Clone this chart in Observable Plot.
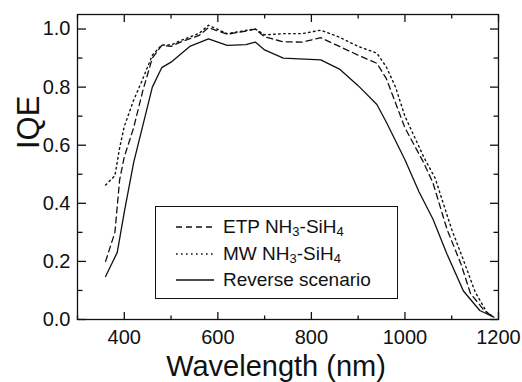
<!DOCTYPE html>
<html>
<head>
<meta charset="utf-8">
<script src="https://cdn.jsdelivr.net/npm/d3@7"></script>
<script src="https://cdn.jsdelivr.net/npm/@observablehq/plot@0.6"></script>
<style>
  html, body { margin: 0; padding: 0; background: #fff; }
  #wrap { position: relative; width: 522px; height: 382px; font-family: "Liberation Sans", Arial, sans-serif; }
  #legend { position: absolute; left: 155px; top: 206px; width: 243px; height: 93px; border: 1.3px solid #111; box-sizing: border-box; background: #fff; }
  .row { position: absolute; left: 0; height: 24px; display: flex; align-items: center; font-size: 19px; color: #111; white-space: nowrap; }
  .row svg { margin-left: 20px; margin-right: 9px; }
  .row sub { font-size: 13px; position: relative; top: 3px; vertical-align: baseline; }
</style>
</head>
<body>
<div id="wrap"></div>
<script>
// Data
const etpWavelength = [360,380,390,400,420,440,460,480,500,520,560,580,620,660,680,700,740,780,820,860,900,940,960,980,1000,1040,1060,1090,1120,1140,1170,1190];
const etpIQE        = [0.200,0.300,0.480,0.560,0.660,0.790,0.900,0.944,0.940,0.955,0.978,1.005,0.982,0.993,1.000,0.973,0.956,0.955,0.970,0.940,0.910,0.882,0.830,0.745,0.660,0.540,0.470,0.310,0.190,0.090,0.030,0.008];

const mwWavelength = [360,380,390,400,420,440,460,480,500,520,560,580,620,660,680,700,740,780,820,860,900,940,960,980,1000,1040,1065,1100,1125,1150,1175,1190];
const mwIQE        = [0.463,0.495,0.590,0.665,0.755,0.830,0.910,0.945,0.945,0.960,0.985,1.013,0.984,0.995,1.000,0.980,0.984,0.984,0.996,0.972,0.940,0.917,0.870,0.800,0.700,0.560,0.485,0.310,0.205,0.095,0.025,0.008];

const revWavelength = [360,385,400,420,440,460,480,500,540,580,620,660,680,700,740,820,860,900,940,960,1000,1030,1060,1090,1125,1160,1190];
const revIQE        = [0.148,0.231,0.370,0.540,0.670,0.800,0.867,0.886,0.940,0.966,0.944,0.946,0.955,0.928,0.900,0.894,0.862,0.805,0.740,0.680,0.550,0.440,0.345,0.225,0.098,0.031,0.008];

const seriesNames = ["ETP NH3-SiH4", "MW NH3-SiH4", "Reverse scenario"];
const xMajorTicks = [400, 600, 800, 1000, 1200];
const xMinorTicks = [300, 500, 700, 900, 1100];
const yMajorTicks = [0, 0.2, 0.4, 0.6, 0.8, 1.0];
const yMinorTicks = [0.1, 0.3, 0.5, 0.7, 0.9];
const xTitle = "Wavelength (nm)";
const yTitle = "IQE";

const toRows = (wl, v, s) => wl.map((w, i) => ({wavelength: w, iqe: v[i], series: s}));
const etp = toRows(etpWavelength, etpIQE, seriesNames[0]);
const mw = toRows(mwWavelength, mwIQE, seriesNames[1]);
const rev = toRows(revWavelength, revIQE, seriesNames[2]);

const ink = "#111";
const tickStyle = {stroke: ink, strokeWidth: 1.3, fill: "none", label: null};

// Inward ticks: the opposite-side tick shape drawn at each frame edge
const chart = Plot.plot({
  width: 522,
  height: 382,
  marginLeft: 77,
  marginRight: 24,
  marginTop: 14,
  marginBottom: 63,
  style: {fontFamily: "'Liberation Sans', Arial, sans-serif", color: ink, background: "#fff"},
  x: {domain: [300, 1200]},
  y: {domain: [0, 1.05]},
  marks: [
    Plot.line(rev, {x: "wavelength", y: "iqe", stroke: ink, strokeWidth: 1.3}),
    Plot.line(etp, {x: "wavelength", y: "iqe", stroke: ink, strokeWidth: 1.3, strokeDasharray: "6,4"}),
    Plot.line(mw, {x: "wavelength", y: "iqe", stroke: ink, strokeWidth: 1.4, strokeDasharray: "1.6,3.4"}),
    Plot.frame({stroke: ink, strokeWidth: 1.3}),
    Plot.axisX(xMajorTicks, {anchor: "top", frameAnchor: "bottom", tickSize: 8, ...tickStyle}),
    Plot.axisX(xMinorTicks, {anchor: "top", frameAnchor: "bottom", tickSize: 4.5, ...tickStyle}),
    Plot.axisX(xMajorTicks, {anchor: "bottom", frameAnchor: "top", tickSize: 8, ...tickStyle}),
    Plot.axisX(xMinorTicks, {anchor: "bottom", frameAnchor: "top", tickSize: 4.5, ...tickStyle}),
    Plot.axisY(yMajorTicks, {anchor: "right", frameAnchor: "left", tickSize: 8, ...tickStyle}),
    Plot.axisY(yMinorTicks, {anchor: "right", frameAnchor: "left", tickSize: 4.5, ...tickStyle}),
    Plot.axisY(yMajorTicks, {anchor: "left", frameAnchor: "right", tickSize: 8, ...tickStyle}),
    Plot.axisY(yMinorTicks, {anchor: "left", frameAnchor: "right", tickSize: 4.5, ...tickStyle}),
    Plot.axisX(xMajorTicks, {anchor: "bottom", tickSize: 0, tickPadding: 10, fontSize: 20, fill: ink, tickFormat: d => String(d), label: null}),
    Plot.axisY(yMajorTicks, {anchor: "left", tickSize: 0, tickPadding: 7, fontSize: 20, fill: ink, tickFormat: d3.format(".1f"), label: null}),
    Plot.text([xTitle], {frameAnchor: "bottom", text: d => d, fontSize: 29, fill: ink, lineAnchor: "middle", dy: 47, dx: -12}),
    Plot.text([yTitle], {frameAnchor: "left", text: d => d, fontSize: 31, fill: ink, rotate: -90, lineAnchor: "middle", dx: -48, dy: -18})
  ]
});

const wrap = document.getElementById("wrap");
wrap.appendChild(chart);

// Legend (inside the plot area)
const legend = document.createElement("div");
legend.id = "legend";
const rows = [
  {dash: "6,4", sw: 1.3, html: 'ETP NH<sub>3</sub>-SiH<sub>4</sub>', top: 8},
  {dash: "1.6,3.4", sw: 1.4, html: 'MW NH<sub>3</sub>-SiH<sub>4</sub>', top: 35},
  {dash: null, sw: 1.3, html: 'Reverse scenario', top: 61}
];
rows.forEach(r => {
  const row = document.createElement("div");
  row.className = "row";
  row.style.top = r.top + "px";
  row.innerHTML = `<svg width="38" height="4"><line x1="0" y1="2" x2="38" y2="2" stroke="${ink}" stroke-width="${r.sw}" ${r.dash ? `stroke-dasharray="${r.dash}"` : ""}/></svg><span>${r.html}</span>`;
  legend.appendChild(row);
});
wrap.appendChild(legend);
</script>
</body>
</html>
